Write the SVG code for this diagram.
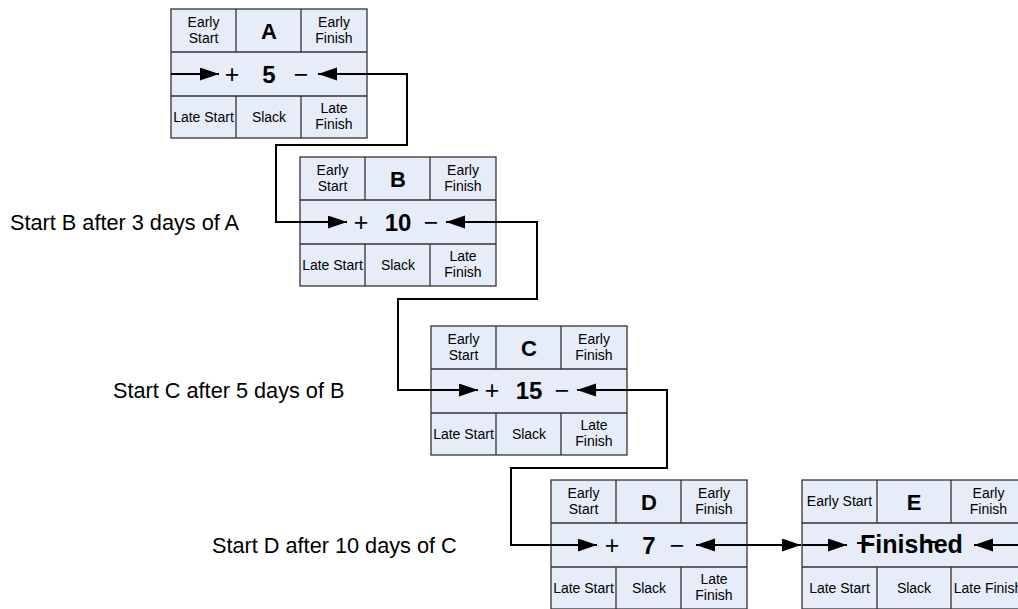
<svg xmlns="http://www.w3.org/2000/svg" width="1018" height="609" viewBox="0 0 1018 609">
<style>
.box{fill:#E7EDF8;stroke:#333;stroke-width:1.3}
.ln{stroke:#333;stroke-width:1.3;fill:none}
.t{font-family:"Liberation Sans",Arial,sans-serif;font-size:14px;text-anchor:middle;fill:#000}
.id{font-size:22px;font-weight:bold}
.num{font-size:24px;font-weight:bold}
.op{font-size:25px}
.fin{font-size:25px;font-weight:bold}
.lbl{font-family:"Liberation Sans",Arial,sans-serif;font-size:21.7px;fill:#000}
.c{fill:none;stroke:#000;stroke-width:2}
</style>
<defs>
<marker id="ah" markerUnits="userSpaceOnUse" markerWidth="20" markerHeight="14" refX="19" refY="6.5" orient="auto-start-reverse">
<path d="M0,0 L19,6.5 L0,13 z" fill="#000"/>
</marker>
</defs>
<rect width="1018" height="609" fill="#fff"/>

<g id="labels">
<text class="lbl" x="10" y="229.5">Start B after 3 days of A</text>
<text class="lbl" x="113" y="397.5">Start C after 5 days of B</text>
<text class="lbl" x="212" y="552.5">Start D after 10 days of C</text>
</g>

<g id="nodeA" transform="translate(171,9)">
<rect class="box" x="0" y="0" width="196" height="129"/>
<path class="ln" d="M0,43H196M0,87H196M65,0V43M130,0V43M65,87V129M130,87V129"/>
<text class="t" x="32.5" y="18">Early</text><text class="t" x="32.5" y="34">Start</text>
<text class="t id" x="98" y="30">A</text>
<text class="t" x="163" y="18">Early</text><text class="t" x="163" y="34">Finish</text>
<text class="t op" x="61" y="73.5">+</text>
<text class="t num" x="98" y="73.5">5</text>
<text class="t op" x="130" y="73.5">−</text>
<text class="t" x="32.5" y="113">Late Start</text>
<text class="t" x="98" y="113">Slack</text>
<text class="t" x="163" y="104">Late</text><text class="t" x="163" y="120">Finish</text>
</g>

<g id="nodeB" transform="translate(300,157)">
<rect class="box" x="0" y="0" width="196" height="129"/>
<path class="ln" d="M0,43H196M0,87H196M65,0V43M130,0V43M65,87V129M130,87V129"/>
<text class="t" x="32.5" y="18">Early</text><text class="t" x="32.5" y="34">Start</text>
<text class="t id" x="98" y="30">B</text>
<text class="t" x="163" y="18">Early</text><text class="t" x="163" y="34">Finish</text>
<text class="t op" x="61" y="73.5">+</text>
<text class="t num" x="98" y="73.5">10</text>
<text class="t op" x="131" y="73.5">−</text>
<text class="t" x="32.5" y="113">Late Start</text>
<text class="t" x="98" y="113">Slack</text>
<text class="t" x="163" y="104">Late</text><text class="t" x="163" y="120">Finish</text>
</g>

<g id="nodeC" transform="translate(431,326)">
<rect class="box" x="0" y="0" width="196" height="129"/>
<path class="ln" d="M0,43H196M0,87H196M65,0V43M130,0V43M65,87V129M130,87V129"/>
<text class="t" x="32.5" y="18">Early</text><text class="t" x="32.5" y="34">Start</text>
<text class="t id" x="98" y="30">C</text>
<text class="t" x="163" y="18">Early</text><text class="t" x="163" y="34">Finish</text>
<text class="t op" x="61" y="72.5">+</text>
<text class="t num" x="98" y="72.5">15</text>
<text class="t op" x="131" y="72.5">−</text>
<text class="t" x="32.5" y="113">Late Start</text>
<text class="t" x="98" y="113">Slack</text>
<text class="t" x="163" y="104">Late</text><text class="t" x="163" y="120">Finish</text>
</g>

<g id="nodeD" transform="translate(551,480)">
<rect class="box" x="0" y="0" width="196" height="129"/>
<path class="ln" d="M0,43H196M0,87H196M65,0V43M130,0V43M65,87V129M130,87V129"/>
<text class="t" x="32.5" y="18">Early</text><text class="t" x="32.5" y="34">Start</text>
<text class="t id" x="98" y="30">D</text>
<text class="t" x="163" y="18">Early</text><text class="t" x="163" y="34">Finish</text>
<text class="t op" x="61" y="73.5">+</text>
<text class="t num" x="98" y="73.5">7</text>
<text class="t op" x="126" y="73.5">−</text>
<text class="t" x="32.5" y="113">Late Start</text>
<text class="t" x="98" y="113">Slack</text>
<text class="t" x="163" y="104">Late</text><text class="t" x="163" y="120">Finish</text>
</g>

<g id="nodeE" transform="translate(802,480)">
<rect class="box" x="0" y="0" width="224" height="129"/>
<path class="ln" d="M0,43H224M0,87H224M75,0V43M149,0V43M75,87V129M149,87V129"/>
<text class="t" x="37.5" y="26">Early Start</text>
<text class="t id" x="112" y="30">E</text>
<text class="t" x="186.5" y="18">Early</text><text class="t" x="186.5" y="34">Finish</text>
<text class="t fin" x="109.5" y="73">Finished</text>
<text class="t" x="37.5" y="113">Late Start</text>
<text class="t" x="112" y="113">Slack</text>
<text class="t" x="186" y="113">Late Finish</text>
</g>

<g id="connectors">
<path class="c" d="M171,74H219" marker-end="url(#ah)"/>
<path class="c" d="M318,74H407V145H276V222H347" marker-start="url(#ah)" marker-end="url(#ah)"/>
<path class="c" d="M446,222H537V299H398V390H478" marker-start="url(#ah)" marker-end="url(#ah)"/>
<path class="c" d="M577,390H667V468H511V545H597" marker-start="url(#ah)" marker-end="url(#ah)"/>
<path class="c" d="M696,545H801" marker-start="url(#ah)" marker-end="url(#ah)"/>
<path class="c" d="M802,545H847" marker-end="url(#ah)"/>
<path class="c" d="M1018,545H974" marker-end="url(#ah)"/>
<path class="c" d="M857,543H869M922,542H937"/>
</g>
</svg>
